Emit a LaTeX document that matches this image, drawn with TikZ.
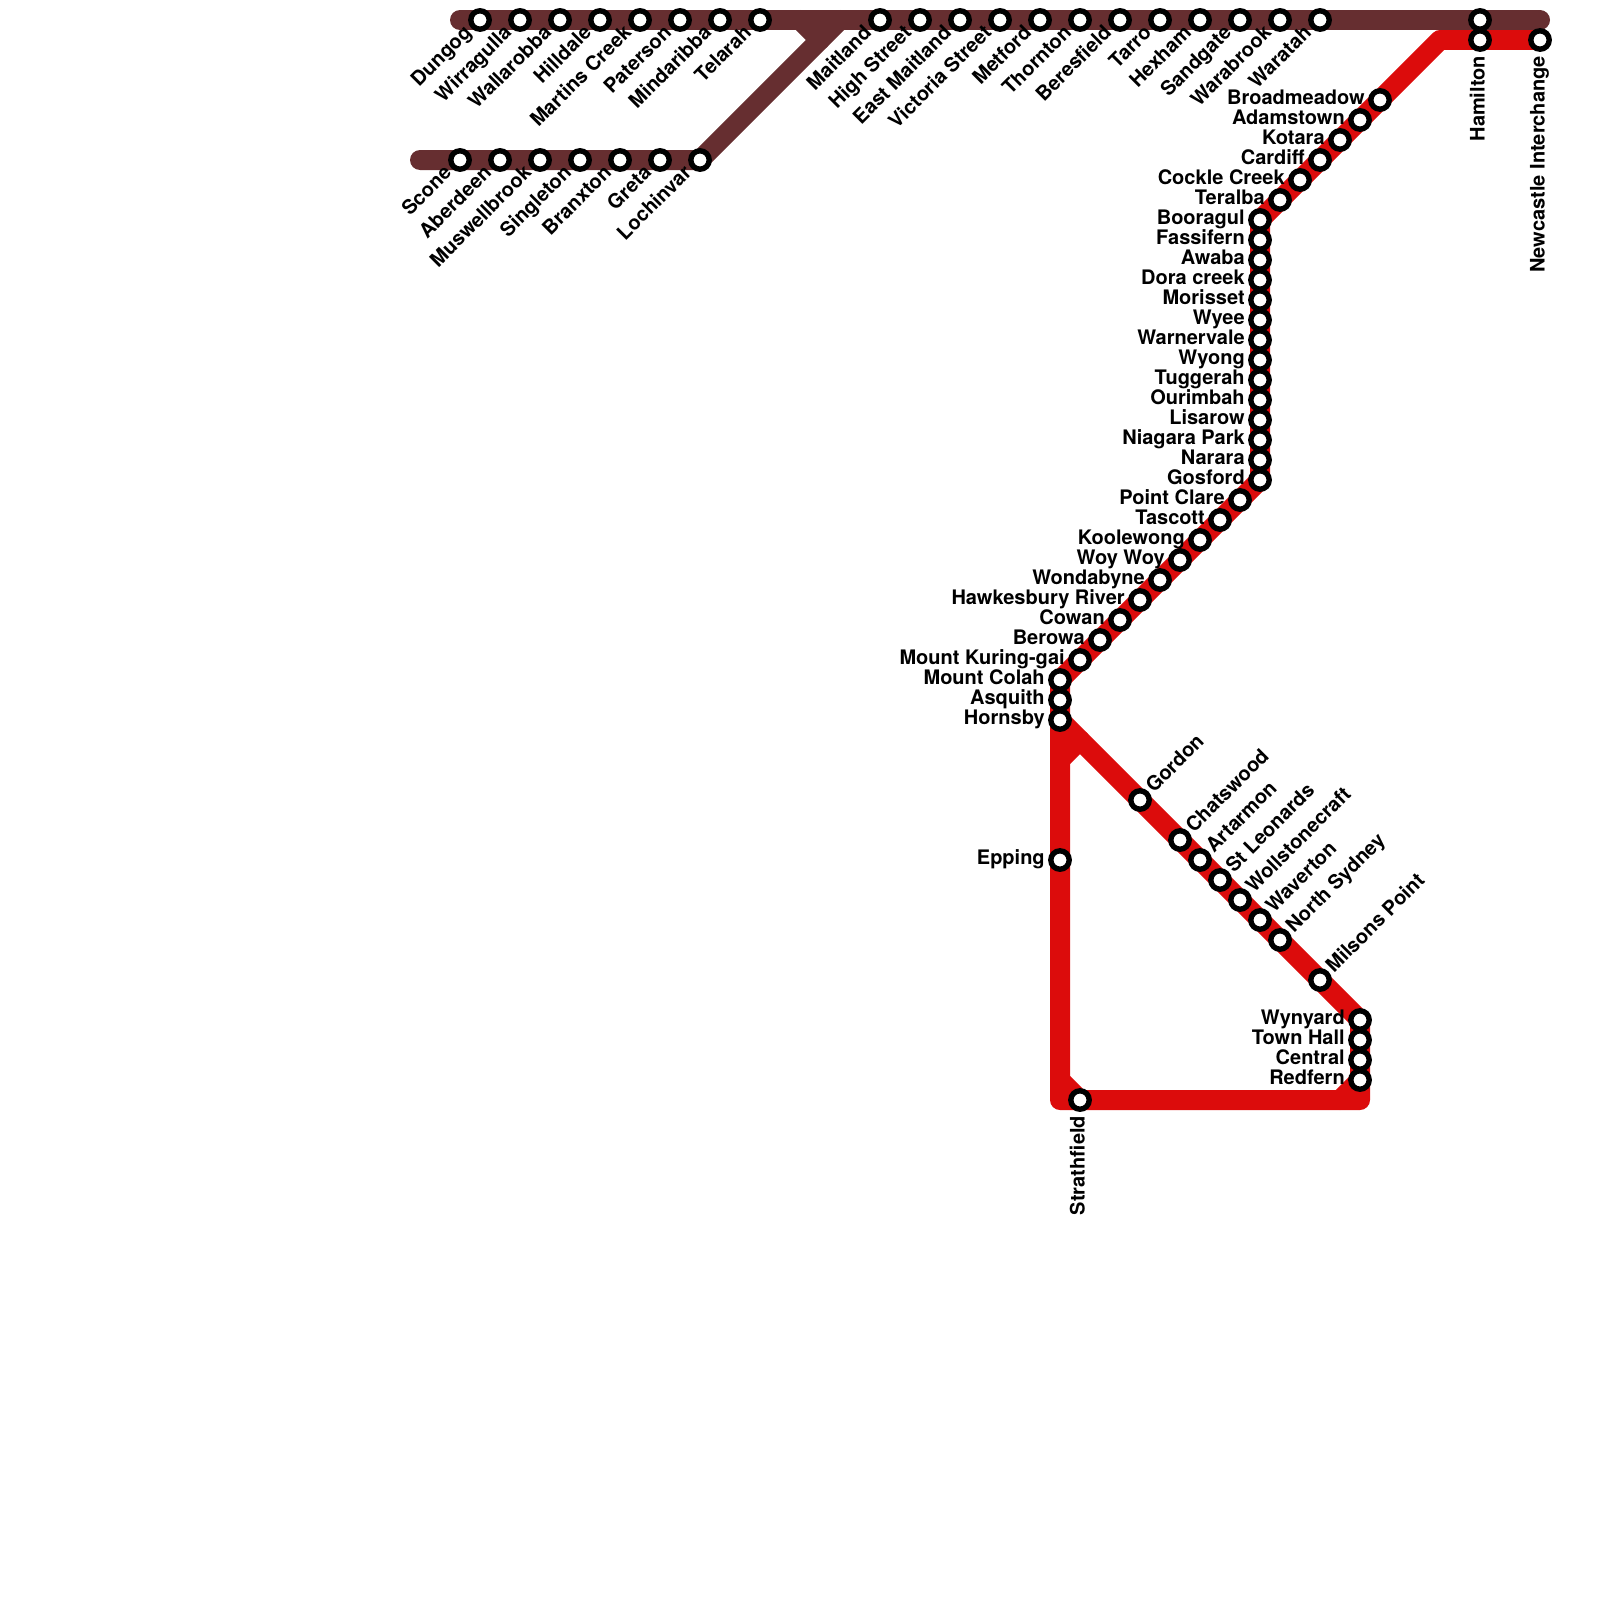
\documentclass[tikz,border=0pt]{standalone}
\usepackage{fontspec}
\setmainfont{TeX Gyre Heros}
\usetikzlibrary{backgrounds}
\definecolor{brownline}{RGB}{102,46,48}
\definecolor{redline}{RGB}{220,12,12}
\tikzset{
  stn/.style={circle,draw=black,fill=white,line width=2.7pt,minimum size=9.2pt,inner sep=0pt,outer sep=0pt},
  lbl/.style={inner sep=0pt,outer sep=0pt,text=black,font=\bfseries\fontsize{10}{10}\selectfont},
  lineb/.style={draw=brownline,line width=10pt,line cap=round,line join=round},
  liner/.style={draw=redline,line width=10pt,line cap=round,line join=round}
}
% name, x, y, label
\newcommand\stL[4]{\node[stn] (#1) at (#2,#3) {};\node[lbl,anchor=base east] (#1-l) at ([shift={(-15.3,4.7)}]#2,#3) {#4};}
\newcommand\stD[4]{\node[stn] (#1) at (#2,#3) {};\node[lbl,rotate=45,anchor=base east] (#1-l) at ([shift={(-7.5,14)}]#2,#3) {#4};}
\newcommand\stU[4]{\node[stn] (#1) at (#2,#3) {};\node[lbl,rotate=45,anchor=base west] (#1-l) at ([shift={(14,-6.3)}]#2,#3) {#4};}
\newcommand\stV[4]{\node[stn] (#1) at (#2,#3) {};\node[lbl,rotate=90,anchor=base east] (#1-l) at ([shift={(4.5,16)}]#2,#3) {#4};}
\begin{document}
\begin{tikzpicture}[x=0.5pt,y=-0.5pt]
\useasboundingbox (0,0) rectangle (1600,1600);
% top row
\stD{dungog}{480}{20}{Dungog}
\stD{wirragulla}{520}{20}{Wirragulla}
\stD{wallarobba}{560}{20}{Wallarobba}
\stD{hilldale}{600}{20}{Hilldale}
\stD{martins}{640}{20}{Martins Creek}
\stD{paterson}{680}{20}{Paterson}
\stD{mindaribba}{720}{20}{Mindaribba}
\stD{telarah}{760}{20}{Telarah}
\stD{maitland}{880}{20}{Maitland}
\stD{highst}{920}{20}{High Street}
\stD{eastmait}{960}{20}{East Maitland}
\stD{victoria}{1000}{20}{Victoria Street}
\stD{metford}{1040}{20}{Metford}
\stD{thornton}{1080}{20}{Thornton}
\stD{beresfield}{1120}{20}{Beresfield}
\stD{tarro}{1160}{20}{Tarro}
\stD{hexham}{1200}{20}{Hexham}
\stD{sandgate}{1240}{20}{Sandgate}
\stD{warabrook}{1280}{20}{Warabrook}
\stD{waratah}{1320}{20}{Waratah}
\node[stn] (hamiltonb) at (1480,20) {};
% second row
\stD{scone}{460}{160}{Scone}
\stD{aberdeen}{500}{160}{Aberdeen}
\stD{muswellbrook}{540}{160}{Muswellbrook}
\stD{singleton}{580}{160}{Singleton}
\stD{branxton}{620}{160}{Branxton}
\stD{greta}{660}{160}{Greta}
\stD{lochinvar}{700}{160}{Lochinvar}
% red east
\stV{hamilton}{1480}{40}{Hamilton}
\stV{newcastle}{1540}{40}{Newcastle Interchange}
\stL{broadmeadow}{1380}{100}{Broadmeadow}
\stL{adamstown}{1360}{120}{Adamstown}
\stL{kotara}{1340}{140}{Kotara}
\stL{cardiff}{1320}{160}{Cardiff}
\stL{cockle}{1300}{180}{Cockle Creek}
\stL{teralba}{1280}{200}{Teralba}
\stL{booragul}{1260}{220}{Booragul}
\stL{fassifern}{1260}{240}{Fassifern}
\stL{awaba}{1260}{260}{Awaba}
\stL{dora}{1260}{280}{Dora creek}
\stL{morisset}{1260}{300}{Morisset}
\stL{wyee}{1260}{320}{Wyee}
\stL{warnervale}{1260}{340}{Warnervale}
\stL{wyong}{1260}{360}{Wyong}
\stL{tuggerah}{1260}{380}{Tuggerah}
\stL{ourimbah}{1260}{400}{Ourimbah}
\stL{lisarow}{1260}{420}{Lisarow}
\stL{niagara}{1260}{440}{Niagara Park}
\stL{narara}{1260}{460}{Narara}
\stL{gosford}{1260}{480}{Gosford}
\stL{pointclare}{1240}{500}{Point Clare}
\stL{tascott}{1220}{520}{Tascott}
\stL{koolewong}{1200}{540}{Koolewong}
\stL{woywoy}{1180}{560}{Woy Woy}
\stL{wondabyne}{1160}{580}{Wondabyne}
\stL{hawkesbury}{1140}{600}{Hawkesbury River}
\stL{cowan}{1120}{620}{Cowan}
\stL{berowa}{1100}{640}{Berowa}
\stL{kuringgai}{1080}{660}{Mount Kuring-gai}
\stL{colah}{1060}{680}{Mount Colah}
\stL{asquith}{1060}{700}{Asquith}
\stL{hornsby}{1060}{720}{Hornsby}
\stL{epping}{1060}{860}{Epping}
% north shore
\stU{gordon}{1140}{800}{Gordon}
\stU{chatswood}{1180}{840}{Chatswood}
\stU{artarmon}{1200}{860}{Artarmon}
\stU{stleonards}{1220}{880}{St Leonards}
\stU{wollstonecraft}{1240}{900}{Wollstonecraft}
\stU{waverton}{1260}{920}{Waverton}
\stU{northsydney}{1280}{940}{North Sydney}
\stU{milsons}{1320}{980}{Milsons Point}
\stL{wynyard}{1360}{1020}{Wynyard}
\stL{townhall}{1360}{1040}{Town Hall}
\stL{central}{1360}{1060}{Central}
\stL{redfern}{1360}{1080}{Redfern}
\stV{strathfield}{1080}{1100}{Strathfield}
% free ends and bends
\coordinate (bwest) at (460,20);
\coordinate (beast) at (1540,20);
\coordinate (bwestb) at (420,160);
\coordinate (bjoin) at (840,20);
\coordinate (bstub) at (800,20);
\coordinate (bstubend) at (820,40);
\coordinate (rbend) at (1440,40);
\coordinate (rsw) at (1060,1100);
\coordinate (rse) at (1360,1100);
\coordinate (rstuba) at (1060,760);
\coordinate (rstubb) at (1080,740);
\coordinate (rstubc) at (1060,1080);
\coordinate (rstubd) at (1340,1100);
\begin{scope}[on background layer]
\draw[liner] (newcastle.center) -- (rbend) -- (booragul.center) -- (gosford.center) -- (colah.center) -- (rsw) -- (rse) -- (wynyard.center) -- (hornsby.center);
\draw[liner] (rstuba) -- (rstubb);
\draw[liner] (rstubc) -- (strathfield.center);
\draw[liner] (rstubd) -- (redfern.center);
\draw[lineb] (bwest) -- (beast);
\draw[lineb] (bwestb) -- (lochinvar.center) -- (bjoin);
\draw[lineb] (bstub) -- (bstubend);
\end{scope}
\end{tikzpicture}
\end{document}
